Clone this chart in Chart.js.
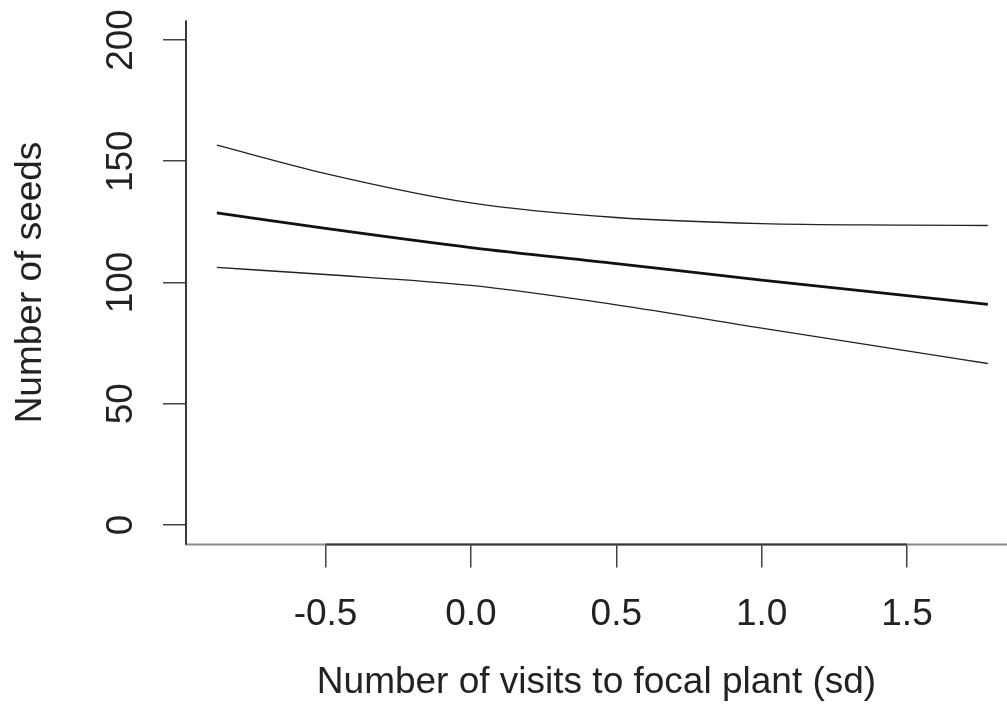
<!DOCTYPE html>
<html>
<head>
<meta charset="utf-8">
<script src="https://cdn.jsdelivr.net/npm/chart.js@4"></script>
<style>
  html, body { margin: 0; padding: 0; background: #fff; overflow: hidden; }
  #wrap { width: 1007px; height: 726px; }
</style>
</head>
<body>
<div id="wrap"><canvas id="chart"></canvas></div>
<script>
// values
const visits = [-0.874, -0.5, 0.0, 0.5, 1.0, 1.5, 1.778];
const seedsFit = [128.7, 122.3, 114.4, 107.8, 101.0, 94.6, 91.0];
const seedsUpper = [156.6, 144.9, 132.8, 126.8, 124.3, 123.7, 123.5];
const seedsLower = [106.2, 103.3, 98.8, 90.8, 81.2, 71.8, 66.6];

const xTicks = [-0.5, 0.0, 0.5, 1.0, 1.5];
const yTicks = [0, 50, 100, 150, 200];

Chart.defaults.font.family = "'Liberation Sans', Arial, sans-serif";
Chart.defaults.color = "#222";

const toPoints = (ys) => visits.map((x, i) => ({ x: x, y: ys[i] }));

// R style axes: line only between first and last tick, L shaped box
const rAxes = {
  id: "rAxes",
  beforeDatasetsDraw(chart) {
    const { ctx, chartArea: a, scales: { x, y } } = chart;
    ctx.save();
    ctx.lineCap = "butt";
    ctx.strokeStyle = "#8a8a8a";
    ctx.lineWidth = 2;
    ctx.beginPath();
    ctx.moveTo(a.left, a.top);
    ctx.lineTo(a.left, a.bottom);
    ctx.lineTo(a.right, a.bottom);
    ctx.stroke();
    ctx.strokeStyle = "#3a3a3a";
    ctx.beginPath();
    ctx.moveTo(x.getPixelForValue(xTicks[0]), a.bottom);
    ctx.lineTo(x.getPixelForValue(xTicks[xTicks.length - 1]), a.bottom);
    ctx.moveTo(a.left, a.top);
    ctx.lineTo(a.left, a.bottom);
    ctx.stroke();
    ctx.restore();
  },
};

const ctx = document.getElementById("chart").getContext("2d");
new Chart(ctx, {
  type: "line",
  data: {
    datasets: [
      {
        label: "upper",
        data: toPoints(seedsUpper),
        borderColor: "#222",
        borderWidth: 1.3,
      },
      {
        label: "fit",
        data: toPoints(seedsFit),
        borderColor: "#111",
        borderWidth: 2.8,
      },
      {
        label: "lower",
        data: toPoints(seedsLower),
        borderColor: "#222",
        borderWidth: 1.3,
      },
    ],
  },
  options: {
    responsive: true,
    maintainAspectRatio: false,
    animation: false,
    events: [],
    layout: { padding: { top: 20.6, right: 0, left: 0, bottom: 0 } },
    elements: {
      point: { radius: 0 },
      line: { cubicInterpolationMode: "monotone", fill: false },
    },
    plugins: { legend: { display: false }, tooltip: { enabled: false } },
    scales: {
      x: {
        type: "linear",
        min: -0.98,
        max: 1.844,
        afterBuildTicks: (s) => { s.ticks = xTicks.map((v) => ({ value: v })); },
        afterFit: (s) => {
          s.height = 181.6;
          s.paddingLeft = 0; s.paddingRight = 0;
        },
        grid: { drawOnChartArea: false, drawTicks: true, tickLength: 23, color: "#444", lineWidth: 1.5 },
        border: { display: false },
        ticks: {
          font: { size: 37 },
          padding: 25.5,
          maxRotation: 0,
          autoSkip: false,
          callback: (v) => Number(v).toFixed(1),
        },
        title: {
          display: true,
          text: "Number of visits to focal plant (sd)",
          font: { size: 37 },
          padding: { top: 0, bottom: 20.8 },
        },
      },
      y: {
        type: "linear",
        min: -8,
        max: 208,
        afterBuildTicks: (s) => { s.ticks = yTicks.map((v) => ({ value: v })); },
        afterFit: (s) => {
          s.width = 186;
          s.paddingTop = 0; s.paddingBottom = 0;
        },
        grid: { drawOnChartArea: false, drawTicks: true, tickLength: 23, color: "#444", lineWidth: 1.5 },
        border: { display: false },
        ticks: {
          font: { size: 37 },
          padding: 10.5,
          minRotation: 90,
          maxRotation: 90,
          crossAlign: "center",
          autoSkip: false,
          callback: (v) => String(v),
        },
        title: {
          display: true,
          text: "Number of seeds",
          font: { size: 37 },
          padding: { top: 8.5, bottom: 0 },
        },
      },
    },
  },
  plugins: [rAxes],
});
</script>
</body>
</html>
